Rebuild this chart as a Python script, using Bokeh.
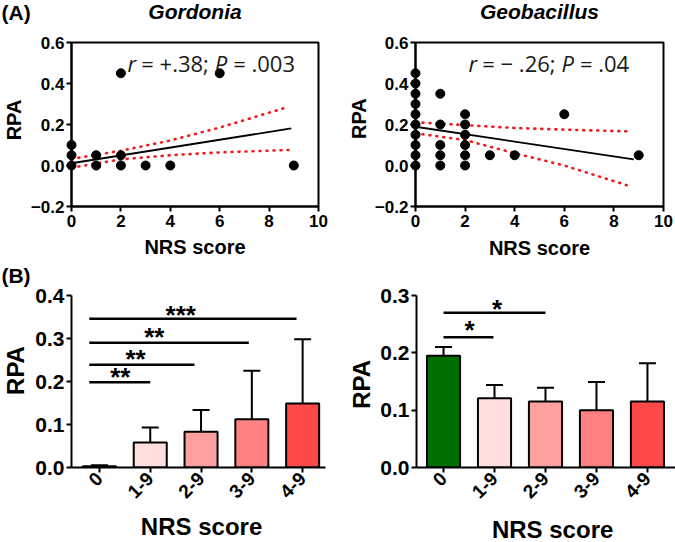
import math
from bokeh.plotting import figure
from bokeh.layouts import row, column
from bokeh.models import FixedTicker, Whisker, TeeHead, ColumnDataSource, Range1d
from bokeh.embed import file_html
from bokeh.resources import INLINE
from bokeh.core.properties import value

# ---------------- data ----------------
nrs_ticks = [0, 2, 4, 6, 8, 10]
rpa_ticks_top = [-0.2, 0.0, 0.2, 0.4, 0.6]
rpa_labels_top = ["\u22120.2", "0.0", "0.2", "0.4", "0.6"]

gord_x = [0, 0, 0, 1, 1, 2, 2, 2, 3, 4, 6, 9]
gord_y = [0.0, 0.05, 0.10, 0.0, 0.05, 0.0, 0.05, 0.45, 0.0, 0.0, 0.45, 0.0]
gord_fit_x = [0, 8.9]
gord_fit_y = [0.011, 0.181]
gord_ci_x = [0, 2, 4, 6, 8.8]
gord_ci_upper = [0.032, 0.072, 0.122, 0.185, 0.287]
gord_ci_lower = [-0.011, 0.030, 0.050, 0.064, 0.076]

geo_x = [0] * 10 + [1] * 5 + [2] * 6 + [3, 4, 6, 9]
geo_y = [0.0, 0.05, 0.10, 0.15, 0.20, 0.25, 0.30, 0.35, 0.40, 0.45,
         0.0, 0.05, 0.10, 0.20, 0.35,
         0.0, 0.05, 0.10, 0.15, 0.20, 0.25,
         0.05, 0.05, 0.25, 0.05]
geo_fit_x = [0, 8.8]
geo_fit_y = [0.189, 0.030]
geo_ci_x = [0, 2, 4, 6, 8.7]
geo_ci_upper = [0.211, 0.197, 0.183, 0.175, 0.166]
geo_ci_lower = [0.157, 0.124, 0.060, 0.000, -0.103]

groups = ["0", "1-9", "2-9", "3-9", "4-9"]
bar_colors = ["#006e00", "#ffdede", "#ffa0a0", "#ff8080", "#ff4848"]

gord_mean = [0.003, 0.058, 0.083, 0.112, 0.149]
gord_err = [0.005, 0.093, 0.134, 0.225, 0.298]
geo_mean = [0.195, 0.121, 0.115, 0.100, 0.115]
geo_err = [0.210, 0.144, 0.139, 0.149, 0.182]

rpa_ticks_bl = [0.0, 0.1, 0.2, 0.3, 0.4]
rpa_ticks_br = [0.0, 0.1, 0.2, 0.3]

# significance brackets (start, end, height) and star labels
gord_sig_x0 = [-0.2, -0.2, -0.2, -0.2]
gord_sig_x1 = [3.88, 2.94, 1.87, 1.0]
gord_sig_y = [0.346, 0.290, 0.239, 0.198]
gord_star_x = [1.6, 1.08, 0.71, 0.41]
gord_star_y = [0.367, 0.315, 0.264, 0.222]
gord_star_txt = ["***", "**", "**", "**"]

geo_sig_x0 = [0.0, 0.0]
geo_sig_x1 = [2.0, 0.98]
geo_sig_y = [0.270, 0.227]
geo_star_x = [1.05, 0.51]
geo_star_y = [0.286, 0.249]
geo_star_txt = ["*", "*"]

BOLD = "Liberation Sans"


def txt(p, x, y, s, size, style="bold", align="center", baseline="middle", angle=0.0,
        font=BOLD, x_offset=0, color="black"):
    p.text(x=[x], y=[y], text=[s], text_font=value(font), text_font_style=style,
           text_font_size=f"{size}px", text_align=align, text_baseline=baseline,
           angle=angle, x_offset=x_offset, text_color=color, level="overlay")


def style_axes(p, tick_px):
    for ax in (p.xaxis[0], p.yaxis[0]):
        ax.axis_line_width = 2
        ax.axis_line_color = "black"
        ax.major_tick_line_width = 2
        ax.major_tick_line_color = "black"
        ax.major_tick_out = 5
        ax.major_tick_in = 0
        ax.minor_tick_line_color = None
        ax.major_label_text_font = BOLD
        ax.major_label_text_font_style = "bold"
        ax.major_label_text_font_size = f"{tick_px}px"
        ax.major_label_text_color = "black"
        ax.major_label_standoff = 2
    p.xgrid.grid_line_color = None
    p.ygrid.grid_line_color = None


def scatter_panel(width, left, right, xs, ys, fx, fy, cx, cu, cl, title, stat_x, pieces,
                  panel_tag, rpa_xy, nrs_y):
    p = figure(width=width, height=261, x_range=Range1d(0, 10), y_range=Range1d(-0.2, 0.6),
               min_border_left=left, min_border_right=right, min_border_top=42, min_border_bottom=55,
               output_backend="svg", toolbar_location=None)
    p.outline_line_color = "black"
    p.outline_line_width = 2
    p.outline_line_alpha = 1
    style_axes(p, 17)
    p.xaxis[0].major_label_standoff = 3
    p.xaxis[0].ticker = FixedTicker(ticks=nrs_ticks)
    p.yaxis[0].ticker = FixedTicker(ticks=rpa_ticks_top)
    p.yaxis[0].major_label_overrides = {t: s for t, s in zip(rpa_ticks_top, rpa_labels_top)}

    p.line(cx, cu, line_color="#ee1c1c", line_width=2.6, line_dash="1 6", line_cap="round")
    p.line(cx, cl, line_color="#ee1c1c", line_width=2.6, line_dash="1 6", line_cap="round")
    p.line(fx, fy, line_color="black", line_width=1.8)
    p.scatter(xs, ys, size=9, color="black", level="overlay")

    txt(p, 5, 0.749, title, 21, style="bold italic")
    txt(p, rpa_xy[0], rpa_xy[1], "RPA", 20, angle=math.pi / 2)
    txt(p, 5, nrs_y, "NRS score", 20)
    off = 0
    for s, ital, w in pieces:
        txt(p, stat_x, 0.5, s, 22, style="italic" if ital else "normal", align="left",
            baseline="alphabetic", font="Open Sans", x_offset=off, color="#1a1a1a")
        off += w
    if panel_tag:
        txt(p, -2.83, 0.744, panel_tag, 21, align="left")
    return p


def bar_panel(width, left, right, xr, ymax, yticks, means, errs, sig_x0, sig_x1, sig_y,
              star_x, star_y, star_txt, rpa_xy, rpa_px, nrs_xy, panel_tag):
    xs = list(range(len(groups)))
    p = figure(width=width, height=281, x_range=Range1d(*xr), y_range=Range1d(0, ymax),
               min_border_left=left, min_border_right=right, min_border_top=34, min_border_bottom=75,
               output_backend="svg", toolbar_location=None)
    p.outline_line_color = None
    style_axes(p, 21)
    p.xaxis[0].major_label_text_font_size = "19px"
    p.xaxis[0].major_label_orientation = math.pi / 4
    p.xaxis[0].major_label_standoff = 3
    p.xaxis[0].ticker = FixedTicker(ticks=xs)
    p.xaxis[0].major_label_overrides = {i: g for i, g in zip(xs, groups)}
    p.yaxis[0].ticker = FixedTicker(ticks=yticks)
    p.yaxis[0].major_label_overrides = {t: f"{t:.1f}" for t in yticks}

    src = ColumnDataSource(dict(x=xs, mean=means, err=errs, color=bar_colors))
    p.vbar(x="x", top="mean", width=0.65, fill_color="color", line_color="black",
           line_width=2, source=src)
    p.add_layout(Whisker(source=src, base="x", upper="err", lower="mean",
                         line_width=2, line_color="black",
                         upper_head=TeeHead(size=17, line_width=2, line_color="black"),
                         lower_head=None))
    p.segment(x0=sig_x0, y0=sig_y, x1=sig_x1, y1=sig_y, line_color="black", line_width=2.5)
    p.text(x=star_x, y=star_y, text=star_txt, text_font=value(BOLD), text_font_style="bold",
           text_font_size="26px", text_align="center", text_baseline="alphabetic",
           y_offset=5, text_color="black")
    txt(p, rpa_xy[0], rpa_xy[1], "RPA", rpa_px, angle=math.pi / 2)
    txt(p, nrs_xy[0], nrs_xy[1], "NRS score", 24)
    if panel_tag:
        txt(p, -1.93, 0.4465, panel_tag, 21, align="left")
    return p


gord_pieces = [("r", True, 13.7), ("= +.38;", False, 73.4), ("P", True, 18.5), ("= .003", False, 0)]
geo_pieces = [("r", True, 13.7), ("= \u2212 .26;", False, 79.2), ("P", True, 18.5), ("= .04", False, 0)]

p1 = scatter_panel(343, 71, 25, gord_x, gord_y, gord_fit_x, gord_fit_y, gord_ci_x,
                   gord_ci_upper, gord_ci_lower, "Gordonia", 2.27, gord_pieces, "(A)",
                   (-2.31, 0.222), -0.3976)
p2 = scatter_panel(332, 72, 12, geo_x, geo_y, geo_fit_x, geo_fit_y, geo_ci_x,
                   geo_ci_upper, geo_ci_lower, "Geobacillus", 2.14, geo_pieces, None,
                   (-2.28, 0.229), -0.402)
p3 = bar_panel(343, 71, 18, (-0.55, 4.45), 0.4, rpa_ticks_bl, gord_mean, gord_err,
               gord_sig_x0, gord_sig_x1, gord_sig_y, gord_star_x, gord_star_y, gord_star_txt,
               (-1.652, 0.2256), 24, (2.01, -0.137), "(B)")
p4 = bar_panel(332, 73, 0, (-0.53, 4.55), 0.3, rpa_ticks_br, geo_mean, geo_err,
               geo_sig_x0, geo_sig_x1, geo_sig_y, geo_star_x, geo_star_y, geo_star_txt,
               (-1.61, 0.145), 24, (2.14, -0.108), None)

layout = column(row(p1, p2), row(p3, p4))
open("out.html", "w").write(file_html(layout, INLINE))
